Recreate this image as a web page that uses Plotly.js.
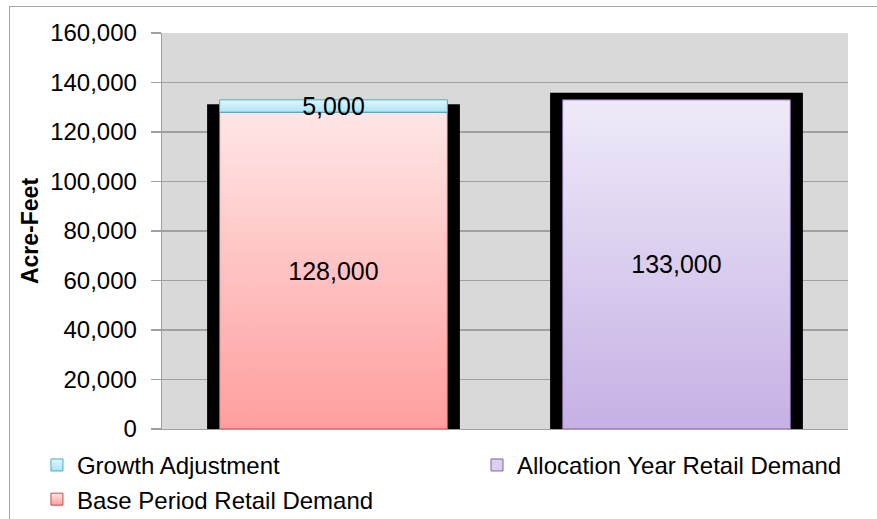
<!DOCTYPE html>
<html>
<head>
<meta charset="utf-8">
<script src="https://cdn.plot.ly/plotly-3.0.1.min.js"></script>
<style>
  html, body { margin: 0; padding: 0; background: #ffffff; overflow: hidden; }
  #wrap { position: relative; width: 877px; height: 519px; }
  #chart { position: absolute; left: 0; top: 0; width: 877px; height: 519px; }
  #frame { position: absolute; left: 9px; top: 6px; width: 900px; height: 600px;
           border-top: 1.5px solid #A6A6A6; border-left: 1.5px solid #A6A6A6; pointer-events: none; }
</style>
</head>
<body>
<div id="wrap">
  <div id="chart"></div>
  <div id="frame"></div>
</div>
<script>
// ---- data ----
const categories = ['Base Period', 'Allocation Year'];
const baseRetail = [128000, null];          // Base Period Retail Demand
const growthAdj = [5000, null];             // Growth Adjustment (stacked on base)
const allocRetail = [null, 133000];         // Allocation Year Retail Demand
const outlineTop = [131200, 135900];        // black frame behind each bar
const outlineBottom = [-1100, -1300];
const yTickVals = [0, 20000, 40000, 60000, 80000, 100000, 120000, 140000, 160000];
const yTitle = 'Acre-Feet';

const FONT = '"Liberation Sans", Arial, sans-serif';
const fmt = v => (v == null ? '' : v.toLocaleString('en-US'));
const labelFont = { family: FONT, size: 25, color: '#000000' };

const traces = [
  {
    type: 'bar', name: 'frame', x: categories,
    y: outlineTop.map((t, i) => t - outlineBottom[i]),
    base: outlineBottom, width: 0.737,
    marker: { color: '#000000', line: { width: 0 } },
    showlegend: false, hoverinfo: 'skip', cliponaxis: false
  },
  {
    type: 'bar', name: 'Base Period Retail Demand', x: categories, y: baseRetail,
    width: 0.664, legend: 'legend', legendrank: 2,
    marker: { color: '#FFC4C4', line: { color: '#C0504D', width: 1 } },
    text: baseRetail.map(fmt), textposition: 'inside', insidetextanchor: 'middle',
    constraintext: 'none', textfont: labelFont, cliponaxis: false
  },
  {
    type: 'bar', name: 'Growth Adjustment', x: categories, y: growthAdj,
    base: baseRetail, width: 0.664, legend: 'legend', legendrank: 1,
    marker: { color: '#C4EEFA', line: { color: '#4BACC6', width: 1 } },
    text: growthAdj.map(fmt), textposition: 'inside', insidetextanchor: 'middle',
    constraintext: 'none', textfont: labelFont, cliponaxis: false
  },
  {
    type: 'bar', name: 'Allocation Year Retail Demand', x: categories, y: allocRetail,
    width: 0.664, legend: 'legend2',
    marker: { color: '#DCD0F0', line: { color: '#8064A2', width: 1 } },
    text: allocRetail.map(fmt), textposition: 'inside', insidetextanchor: 'middle',
    constraintext: 'none', textfont: labelFont, cliponaxis: false
  }
];

const gridColor = '#A0A0A0';
const legendFont = { family: FONT, size: 24, color: '#000000' };
const layout = {
  width: 877, height: 519,
  margin: { l: 162, r: 29, t: 33, b: 90, autoexpand: false },
  paper_bgcolor: '#ffffff', plot_bgcolor: '#D9D9D9',
  barmode: 'overlay',
  font: { family: FONT, size: 24, color: '#000000' },
  xaxis: {
    type: 'category', categoryarray: categories, showticklabels: false, ticks: '',
    showgrid: false, zeroline: false, showline: true, linecolor: gridColor, linewidth: 1.3,
    layer: 'below traces', fixedrange: true
  },
  yaxis: {
    range: [0, 160000], tickvals: yTickVals, tickformat: ',d',
    ticks: 'outside', ticklen: 10, tickcolor: gridColor, tickwidth: 1.3,
    ticklabelstandoff: 9,
    showgrid: true, gridcolor: gridColor, gridwidth: 1.3, zeroline: false,
    showline: true, linecolor: gridColor, linewidth: 1.3, layer: 'below traces',
    tickfont: { family: FONT, size: 24, color: '#000000' },
    title: { text: yTitle, font: { family: FONT, size: 23, color: '#000000', weight: 'bold' }, standoff: 5 },
    fixedrange: true
  },
  legend: {
    orientation: 'v', x: -0.1823, xanchor: 'left', y: -0.035, yanchor: 'top',
    font: legendFont, bgcolor: 'rgba(0,0,0,0)', traceorder: 'normal', tracegroupgap: 0
  },
  legend2: {
    orientation: 'v', x: 0.4592, xanchor: 'left', y: -0.035, yanchor: 'top',
    font: legendFont, bgcolor: 'rgba(0,0,0,0)'
  },
  showlegend: true
};

const gradients = {
  'Base Period Retail Demand': ['#FFE6E6', '#FF9E9E'],
  'Growth Adjustment': ['#E2F8FE', '#A9E4F6'],
  'Allocation Year Retail Demand': ['#EFEAF9', '#C5B1E4']
};

function applyGradients(gd) {
  const ns = 'http://www.w3.org/2000/svg';
  const svg = gd.querySelector('.main-svg');
  let defs = svg.querySelector('defs');
  if (!defs) { defs = document.createElementNS(ns, 'defs'); svg.insertBefore(defs, svg.firstChild); }
  const ids = {};
  Object.keys(gradients).forEach((name, k) => {
    const id = 'grad' + k;
    ids[name] = id;
    const lg = document.createElementNS(ns, 'linearGradient');
    lg.setAttribute('id', id);
    lg.setAttribute('x1', '0'); lg.setAttribute('y1', '0');
    lg.setAttribute('x2', '0'); lg.setAttribute('y2', '1');
    [[0, gradients[name][0]], [1, gradients[name][1]]].forEach(([o, c]) => {
      const s = document.createElementNS(ns, 'stop');
      s.setAttribute('offset', String(o));
      s.setAttribute('stop-color', c);
      lg.appendChild(s);
    });
    defs.appendChild(lg);
  });
  gd.querySelectorAll('.barlayer .trace.bars').forEach(g => {
    const d = g.__data__;
    const name = d && d[0] && d[0].trace && d[0].trace.name;
    if (ids[name]) g.querySelectorAll('.point path').forEach(p => { p.style.fill = 'url(#' + ids[name] + ')'; });
  });
  document.querySelectorAll('.legend .traces').forEach(g => {
    const d = g.__data__;
    const name = d && d[0] && d[0].trace && d[0].trace.name;
    if (ids[name]) g.querySelectorAll('.legendpoints path').forEach(p => { p.style.fill = 'url(#' + ids[name] + ')'; });
  });
}

const gd = document.getElementById('chart');
Plotly.newPlot(gd, traces, layout, { displayModeBar: false, staticPlot: true }).then(() => applyGradients(gd));
</script>
</body>
</html>
